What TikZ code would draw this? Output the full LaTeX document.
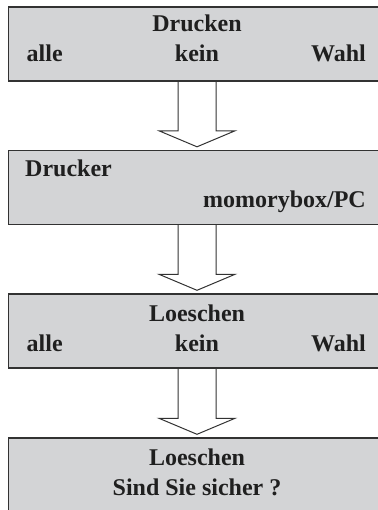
\documentclass[tikz,border=0pt]{standalone}
\usepackage{fontspec}
\setmainfont{Liberation Serif}
\usetikzlibrary{calc,positioning}
\definecolor{boxgray}{RGB}{211,212,214}
\definecolor{edgegray}{RGB}{50,50,50}

\begin{document}
\begin{tikzpicture}[x=1pt,y=-1pt,
    menubox/.style={draw=edgegray,line width=1.4pt,fill=boxgray,rectangle,
      minimum width=377pt,minimum height=74pt,inner sep=0pt},
    txt/.style={font=\fontsize{24}{30}\selectfont\bfseries,text=black!88,inner sep=0pt},
    hollow/.style={draw=edgegray,line width=1pt,line join=miter}]
  \useasboundingbox (0,0) rectangle (377,510);
  % screens
  \node[menubox] (drucken) at (197,44) {};
  \node[menubox] (drucker) at (197,187.5) {};
  \node[menubox] (loeschen) at (197,331) {};
  \node[menubox] (sicher) at (197,475) {};
  % texts
  \begin{scope}[every node/.style={txt}]
    \node[anchor=base] (t1) at (197,32) {Drucken};
    \node[anchor=base west] (a1) at (26.5,62) {alle};
    \node[anchor=base] (k1) at (197,62) {kein};
    \node[anchor=base east] (w1) at (366,62) {Wahl};
    \node[anchor=base west] (t2) at (25,177) {Drucker};
    \node[anchor=base east] (m2) at (366,208) {momorybox/PC};
    \node[anchor=base] (t3) at (197,321) {Loeschen};
    \node[anchor=base west] (a3) at (26.5,351) {alle};
    \node[anchor=base] (k3) at (197,351) {kein};
    \node[anchor=base east] (w3) at (366,351) {Wahl};
    \node[anchor=base] (t4) at (197,465) {Loeschen};
    \node[anchor=base] (s4) at (197,495) {Sind Sie sicher ?};
  \end{scope}
  % hollow arrows
  \foreach \a/\b in {drucken/drucker,drucker/loeschen,loeschen/sicher}
    \draw[hollow] ($(\a.south)+(-19,0)$) -- ($(\b.north)+(-19,-19)$)
      -- ($(\b.north)+(-38,-19)$) -- ($(\b.north)+(0,-3)$)
      -- ($(\b.north)+(38,-19)$) -- ($(\b.north)+(19,-19)$)
      -- ($(\a.south)+(19,0)$);
\end{tikzpicture}
\end{document}
